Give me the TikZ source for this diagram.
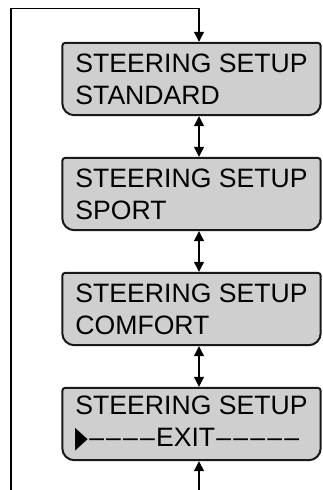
\documentclass[tikz,border=0pt]{standalone}
\usepackage{fontspec}
\setmainfont{Liberation Sans}
\newfontfamily\symfont{DejaVu Sans}
\usetikzlibrary{arrows.meta,backgrounds}
\definecolor{lcdgray}{RGB}{207,207,207}
\newcommand\lcddash{\kern1.1pt\textendash\kern1.1pt}
\newcommand\lcdmark{\raisebox{-1pt}{\scalebox{0.55}[1]{\symfont\fontsize{30}{30}\selectfont ▶}}}
\tikzset{
  lcd/.style={align=left, inner sep=0pt, minimum width=258pt,
              minimum height=72pt, font=\fontsize{26.6}{32}\selectfont},
  lcdframe/.style={fill=lcdgray, draw=black!90, line width=2pt},
  link/.style={{Triangle[length=10pt,width=10pt]}-{Triangle[length=10pt,width=10pt]},
               line width=1.2pt, shorten <=1pt, shorten >=1pt},
  feed/.style={-{Triangle[length=10pt,width=10pt]}, line width=1.4pt,
               shorten >=1pt},
}
% frame with small top corners and round bottom corners
\newcommand\lcdpanel[1]{%
  \path[lcdframe] (#1.north) [rounded corners=3pt] -- (#1.north west) -- (#1.west)
    [rounded corners=12pt] -- (#1.south west) -- (#1.south east) -- (#1.east)
    [rounded corners=3pt] -- (#1.north east) -- cycle;}

\begin{document}
\begin{tikzpicture}[x=1pt,y=1pt]
    \useasboundingbox (0,0) rectangle (322,490);
    \node[lcd] (std) at (191.5,411) {STEERING SETUP\\STANDARD};
    \node[lcd] (spt) at (191.5,296) {STEERING SETUP\\SPORT};
    \node[lcd] (cmf) at (191.5,181) {STEERING SETUP\\COMFORT};
    \node[lcd] (ext) at (191.5,66)
      {STEERING SETUP\\\lcdmark\lcddash\lcddash\lcddash\lcddash EXIT\lcddash\lcddash\lcddash\lcddash\lcddash};
    \begin{scope}[on background layer]
      \lcdpanel{std} \lcdpanel{spt} \lcdpanel{cmf} \lcdpanel{ext}
    \end{scope}
    \coordinate (looptop) at (199,481.5);
    \coordinate (loopfoot) at (11,0);
    \coordinate (inlet) at (199,0);
    \draw[link] (std.south -| looptop) -- (spt.north -| looptop);
    \draw[link] (spt.south -| looptop) -- (cmf.north -| looptop);
    \draw[link] (cmf.south -| looptop) -- (ext.north -| looptop);
    \draw[feed] (loopfoot) |- (looptop) -- (std.north -| looptop);
    \draw[feed] (inlet) -- (ext.south -| inlet);
  \end{tikzpicture}
\end{document}
